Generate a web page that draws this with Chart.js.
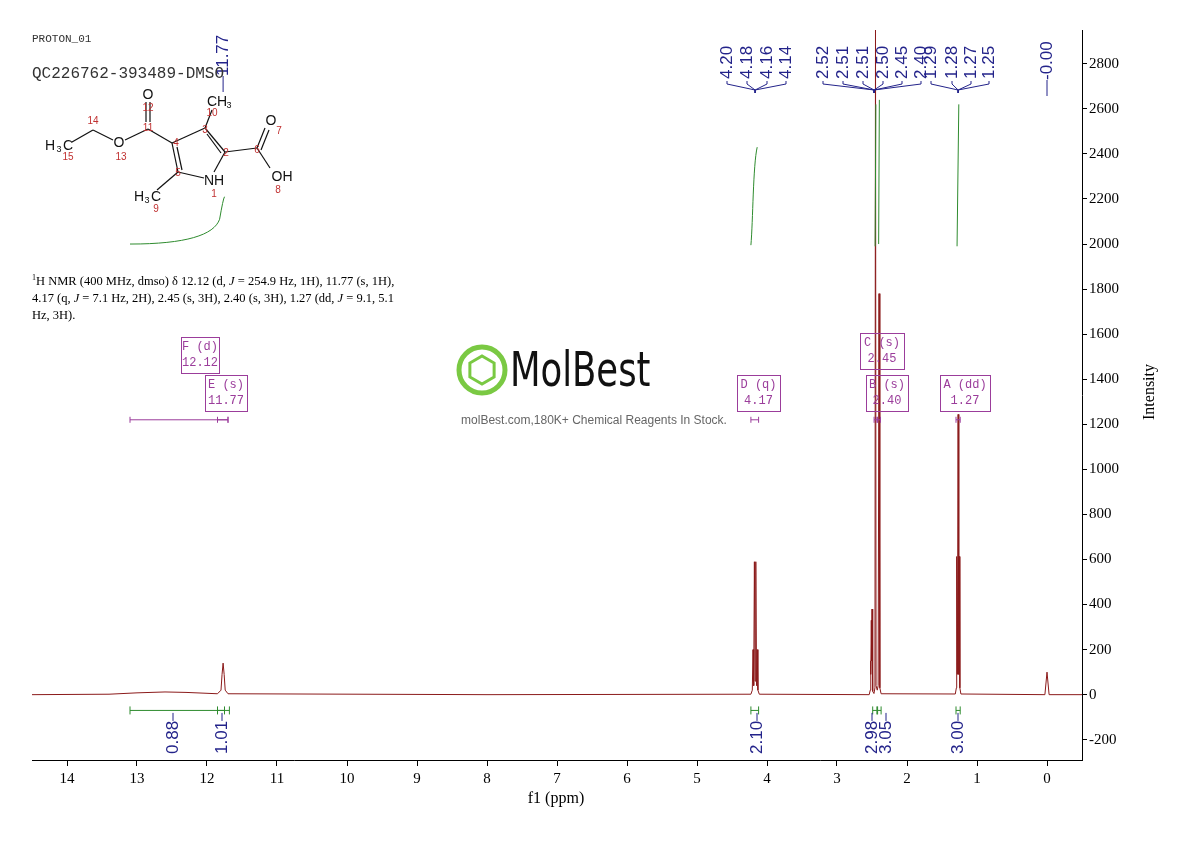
<!DOCTYPE html>
<html><head><meta charset="utf-8">
<script src="https://cdn.jsdelivr.net/npm/chart.js@4/dist/chart.umd.min.js"></script>
<style>html,body{margin:0;padding:0;background:#fff}#c{display:block}</style>
</head><body><canvas id="c" width="1190" height="841"></canvas>
<script>
const specPpm = [14.5,13.4,13.0,12.6,12.3,12.0,11.85,11.8,11.785,11.77,11.755,11.74,11.7,8.0,4.23,4.21,4.20,4.19,4.18,4.17,4.16,4.15,4.14,4.13,4.11,2.54,2.525,2.52,2.515,2.51,2.505,2.50,2.49,2.472,2.458,2.45,2.442,2.425,2.412,2.40,2.388,2.37,1.31,1.295,1.29,1.28,1.27,1.26,1.25,1.245,1.23,0.03,0.0,-0.03,-0.5];
const specInt = [0,2,8,12,10,6,4,20,90,140,90,20,4,0,2,20,200,40,590,60,590,40,200,20,2,0,20,150,90,330,150,380,15,5,30,3000,40,20,40,1780,30,4,3,30,613,90,1244,90,613,30,3,0,100,0,0];
const xTicks = [0,1,2,3,4,5,6,7,8,9,10,11,12,13,14];
const yTicks = [-200,0,200,400,600,800,1000,1200,1400,1600,1800,2000,2200,2400,2600,2800];
const peakGroups = [
  {ppm:4.17, labels:["4.20","4.18","4.16","4.14"], lx:[727,747,767,786]},
  {ppm:2.47, labels:["2.52","2.51","2.51","2.50","2.45","2.40"], lx:[823,843,863,883,902,921]},
  {ppm:1.27, labels:["1.29","1.28","1.27","1.25"], lx:[931,952,971,989]}
];
const singleLabels = [{ppm:11.77,text:"11.77",yb:76},{ppm:0.0,text:"-0.00",yb:80}];
const integrals = [
  {from:13.1,to:11.75,val:"0.88",lx:173},
  {from:11.85,to:11.68,val:"1.01",lx:222},
  {from:4.23,to:4.12,val:"2.10",lx:757},
  {from:2.49,to:2.43,val:"2.98",lx:872},
  {from:2.42,to:2.37,val:"3.05",lx:886},
  {from:1.30,to:1.24,val:"3.00",lx:958}
];
const multiplets = [
  {name:"F (d)",shift:"12.12",x0:181,y0:337,w:38,ppmRange:[13.1,11.7]},
  {name:"E (s)",shift:"11.77",x0:205,y0:375,w:42,ppmRange:[11.85,11.7]},
  {name:"D (q)",shift:"4.17",x0:737,y0:375,w:43,ppmRange:[4.23,4.12]},
  {name:"C (s)",shift:"2.45",x0:860,y0:333,w:44,ppmRange:[2.47,2.43]},
  {name:"B (s)",shift:"2.40",x0:866,y0:375,w:42,ppmRange:[2.42,2.38]},
  {name:"A (dd)",shift:"1.27",x0:940,y0:375,w:50,ppmRange:[1.30,1.24]}
];

const BLUE="#23238a", GREEN="#2e8b2e", PURPLE="#9b3d9b";
const deco = {
  id:'deco',
  afterDatasetsDraw(chart){
    const c=chart.ctx, xs=chart.scales.x, ys=chart.scales.y;
    const X=v=>xs.getPixelForValue(v), Y=v=>ys.getPixelForValue(v);
    c.save();
    c.font='17px "Liberation Sans", Arial'; c.fillStyle=BLUE; c.strokeStyle=BLUE; c.lineWidth=1;
    const vtext=(t,x,yb)=>{c.save();c.translate(x,yb);c.rotate(-Math.PI/2);c.textAlign='left';c.textBaseline='middle';c.fillText(t,0,0);c.restore();};
    peakGroups.forEach(g=>{
      const px=X(g.ppm);
      g.labels.forEach((t,i)=>{
        vtext(t,g.lx[i],79);
        c.beginPath();c.moveTo(g.lx[i],81);c.lineTo(g.lx[i],84);c.lineTo(px,90);c.lineTo(px,93);c.stroke();
      });
    });
    singleLabels.forEach(s=>{const px=X(s.ppm);vtext(s.text,px,s.yb);c.beginPath();c.moveTo(px,s.yb);c.lineTo(px,s.yb+16);c.stroke();});
    c.strokeStyle=GREEN;c.lineWidth=1;
    c.beginPath();c.moveTo(X(13.1),Y(2000));c.bezierCurveTo(X(12.3),Y(2000),X(11.9),Y(2040),X(11.82),Y(2110));c.quadraticCurveTo(X(11.77),Y(2200),X(11.75),Y(2210));c.stroke();
    c.beginPath();c.moveTo(X(4.23),Y(1995));c.bezierCurveTo(X(4.2),Y(2100),X(4.2),Y(2350),X(4.14),Y(2430));c.stroke();
    c.beginPath();c.moveTo(X(2.455),Y(1990));c.lineTo(X(2.445),Y(2620));c.stroke();
    c.beginPath();c.moveTo(X(2.405),Y(2000));c.lineTo(X(2.395),Y(2640));c.stroke();
    c.beginPath();c.moveTo(X(1.285),Y(1990));c.lineTo(X(1.26),Y(2620));c.stroke();
    const by=Y(-70);
    integrals.forEach(it=>{
      c.strokeStyle=GREEN;
      const a=X(it.from),b=X(it.to);
      c.beginPath();c.moveTo(a,by);c.lineTo(b,by);c.moveTo(a,by-4);c.lineTo(a,by+4);c.moveTo(b,by-4);c.lineTo(b,by+4);c.stroke();
      c.fillStyle=BLUE;c.strokeStyle=BLUE;
      c.save();c.translate(it.lx,754);c.rotate(-Math.PI/2);c.textAlign='left';c.textBaseline='middle';c.font='17px "Liberation Sans", Arial';c.fillText(it.val,0,0);
      const w=c.measureText(it.val).width;c.beginPath();c.moveTo(w,0);c.lineTo(w+8,0);c.stroke();c.restore();
    });
    c.strokeStyle=PURPLE;c.fillStyle=PURPLE;c.font='12px "Liberation Mono", monospace';c.textAlign='center';c.textBaseline='middle';
    multiplets.forEach(m=>{
      c.strokeRect(m.x0+0.5,m.y0+0.5,m.w,36);
      c.fillText(m.name,m.x0+m.w/2,m.y0+10);c.fillText(m.shift,m.x0+m.w/2,m.y0+26);
      const a=X(m.ppmRange[0]),b=X(m.ppmRange[1]),yy=Y(1220);
      c.beginPath();c.moveTo(a,yy);c.lineTo(b,yy);c.moveTo(a,yy-3);c.lineTo(a,yy+3);c.moveTo(b,yy-3);c.lineTo(b,yy+3);c.stroke();
    });
    c.fillStyle='#333';c.textAlign='left';c.textBaseline='alphabetic';
    c.font='11px "Liberation Mono", monospace';c.fillText('PROTON_01',32,42);
    c.font='16px "Liberation Mono", monospace';c.fillText('QC226762-393489-DMSO',32,78);
    c.fillStyle='#000';
    const ln=(parts,x,y)=>{parts.forEach(p=>{c.font=(p[1]?'italic ':'')+'12.5px "Liberation Serif", serif';c.fillText(p[0],x,y);x+=c.measureText(p[0]).width;});};
    c.font='8px "Liberation Serif", serif';c.fillText('1',32,280);
    ln([['H NMR (400 MHz, dmso) δ 12.12 (d, '],['J',1],[' = 254.9 Hz, 1H), 11.77 (s, 1H),']],36,285);
    ln([['4.17 (q, '],['J',1],[' = 7.1 Hz, 2H), 2.45 (s, 3H), 2.40 (s, 3H), 1.27 (dd, '],['J',1],[' = 9.1, 5.1']],32,302);
    ln([['Hz, 3H).']],32,319);
    c.strokeStyle='#111';c.lineWidth=1.2;
    const L=(a,b,d,e)=>{c.beginPath();c.moveTo(a,b);c.lineTo(d,e);c.stroke();};
    L(72,142,93,130);L(93,130,113,140);L(125,140,148,129);L(148,129,172,143);
    L(146,122,146,102);L(150,122,150,102);
    L(172,143,205,128);L(205,128,225,152);L(225,152,214,172);L(204,178,178,172);L(178,172,172,143);
    L(177,147,182,170);L(207,134,221,153);
    L(205,128,212,110);L(225,152,257,148);L(257,148,265,128);L(261,150,269,130);L(257,148,270,168);
    L(178,172,157,190);
    c.fillStyle='#111';c.font='14px "Liberation Sans", Arial';c.textAlign='center';c.textBaseline='middle';
    c.fillText('H',50,146);c.fillText('C',68,146);c.font='9px "Liberation Sans"';c.fillText('3',59,150);
    c.font='14px "Liberation Sans", Arial';
    c.fillText('O',119,143);c.fillText('O',148,95);c.fillText('NH',214,181);c.fillText('OH',282,177);c.fillText('O',271,121);
    c.fillText('CH',217,102);c.font='9px "Liberation Sans"';c.fillText('3',229,106);
    c.font='14px "Liberation Sans", Arial';c.fillText('H',139,197);c.fillText('C',156,197);c.font='9px "Liberation Sans"';c.fillText('3',147,201);
    c.fillStyle='#c03030';c.font='10px "Liberation Sans", Arial';
    [['15',68,157],['14',93,121],['13',121,157],['12',148,108],['11',148,128],['4',176,143],['3',205,130],['10',212,113],['2',226,153],['6',257,150],['7',279,131],['8',278,190],['5',178,173],['1',214,194],['9',156,209]].forEach(t=>c.fillText(t[0],t[1],t[2]));
    c.strokeStyle='#7ac943';c.lineWidth=5;c.beginPath();c.arc(482,370,23,0,Math.PI*2);c.stroke();
    c.lineWidth=3;c.beginPath();for(let i=0;i<6;i++){const a=Math.PI/6+i*Math.PI/3;const px=482+14*Math.cos(a),py=370+14*Math.sin(a);i?c.lineTo(px,py):c.moveTo(px,py);}c.closePath();c.stroke();
    c.fillStyle='#111';c.font='48px "Liberation Sans Narrow", "DejaVu Sans Condensed", Arial';c.textAlign='left';c.textBaseline='middle';
    c.save();c.translate(510,374);c.scale(0.82,1);c.fillText('MolBest',0,0);c.restore();
    c.fillStyle='#666';c.font='12px "Liberation Sans", Arial';c.textAlign='center';c.fillText('molBest.com,180K+ Chemical Reagents In Stock.',594,421);
    c.fillStyle='#000';c.font='16px "Liberation Serif", serif';c.textAlign='center';c.fillText('f1 (ppm)',556,799);
    c.save();c.translate(1150,392);c.rotate(-Math.PI/2);c.fillText('Intensity',0,0);c.restore();
    c.restore();
  }
};
new Chart(document.getElementById('c'),{
  type:'line',
  data:{datasets:[{data:specPpm.map((p,i)=>({x:p,y:specInt[i]})),borderColor:'#8b1a1a',borderWidth:1,pointRadius:0,tension:0,fill:false}]},
  options:{responsive:false,animation:false,events:[],
    layout:{padding:{left:32,top:30,right:0,bottom:0}},
    plugins:{legend:{display:false},tooltip:{enabled:false}},
    scales:{
      x:{type:'linear',reverse:true,min:-0.5,max:14.5,
        afterBuildTicks:s=>{s.ticks=xTicks.map(v=>({value:v}));},
        afterFit:s=>{s.height=81;},
        grid:{drawOnChartArea:false,tickLength:6,color:'#000'},border:{color:'#000'},
        ticks:{color:'#000',font:{family:'Liberation Serif',size:15},maxRotation:0,padding:4}},
      y:{position:'right',min:-290,max:2950,
        afterBuildTicks:s=>{s.ticks=yTicks.map(v=>({value:v}));},
        afterFit:s=>{s.width=108;},
        grid:{drawOnChartArea:false,tickLength:5,color:'#000'},border:{color:'#000'},
        ticks:{color:'#000',font:{family:'Liberation Serif',size:15},padding:2,callback:v=>v}}
    }},
  plugins:[deco]
});
</script></body></html>
